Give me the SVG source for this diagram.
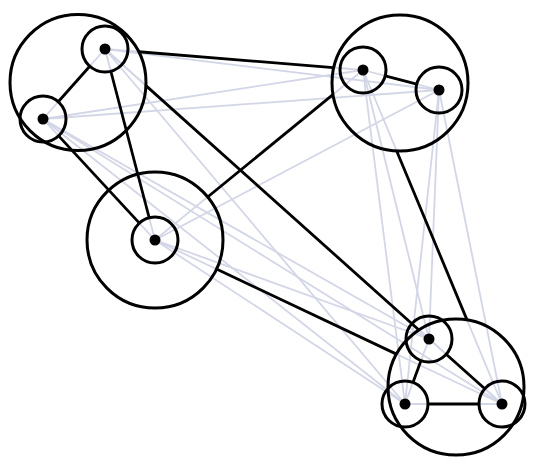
<svg xmlns="http://www.w3.org/2000/svg" width="543" height="469" viewBox="0 0 543 469">
<style>
.bg{fill:#ffffff}
.light line{stroke:#d3d6e6;stroke-width:1.8;fill:none}
.edges line{stroke:#000;stroke-width:2.8;fill:none;stroke-linecap:butt}
.group{fill:none;stroke:#000;stroke-width:3}
.ring{fill:none;stroke:#000;stroke-width:3}
.dot{fill:#000}
</style>
<rect class="bg" x="0" y="0" width="543" height="469"/>
<g id="connectors">
<g class="light">
<line x1="105" y1="49" x2="43" y2="119"/>
<line x1="105" y1="49" x2="363" y2="70"/>
<line x1="105" y1="49" x2="439" y2="90"/>
<line x1="105" y1="49" x2="155" y2="240"/>
<line x1="105" y1="49" x2="429" y2="339"/>
<line x1="105" y1="49" x2="405" y2="404"/>
<line x1="105" y1="49" x2="502" y2="404"/>
<line x1="43" y1="119" x2="363" y2="70"/>
<line x1="43" y1="119" x2="439" y2="90"/>
<line x1="43" y1="119" x2="155" y2="240"/>
<line x1="43" y1="119" x2="429" y2="339"/>
<line x1="43" y1="119" x2="405" y2="404"/>
<line x1="43" y1="119" x2="502" y2="404"/>
<line x1="363" y1="70" x2="439" y2="90"/>
<line x1="363" y1="70" x2="155" y2="240"/>
<line x1="363" y1="70" x2="429" y2="339"/>
<line x1="363" y1="70" x2="405" y2="404"/>
<line x1="363" y1="70" x2="502" y2="404"/>
<line x1="439" y1="90" x2="155" y2="240"/>
<line x1="439" y1="90" x2="429" y2="339"/>
<line x1="439" y1="90" x2="405" y2="404"/>
<line x1="439" y1="90" x2="502" y2="404"/>
<line x1="155" y1="240" x2="429" y2="339"/>
<line x1="155" y1="240" x2="405" y2="404"/>
<line x1="155" y1="240" x2="502" y2="404"/>
<line x1="429" y1="339" x2="405" y2="404"/>
<line x1="429" y1="339" x2="502" y2="404"/>
<line x1="405" y1="404" x2="502" y2="404"/>
</g>
<g class="edges">
<line x1="89.75" y1="66.22" x2="58.25" y2="101.78"/>
<line x1="110.82" y1="71.25" x2="149.18" y2="217.75"/>
<line x1="58.62" y1="135.88" x2="139.38" y2="223.12"/>
<line x1="385.24" y1="75.85" x2="416.76" y2="84.15"/>
<line x1="421.03" y1="360.58" x2="412.97" y2="382.42"/>
<line x1="446.18" y1="354.29" x2="484.82" y2="388.71"/>
<line x1="428" y1="404" x2="479" y2="404"/>
<line x1="138.65" y1="51.74" x2="333.2" y2="67.6"/>
<line x1="145.92" y1="85.63" x2="418.93" y2="329.99"/>
<line x1="332.6" y1="94.8" x2="207.65" y2="196.97"/>
<line x1="396.68" y1="150.92" x2="467.01" y2="319.91"/>
<line x1="216.48" y1="269.06" x2="396.48" y2="354.13"/>
</g>
</g>
<g id="group-A"><circle class="group" cx="78" cy="82.5" r="68"/></g>
<g id="group-B"><circle class="group" cx="400" cy="83" r="68"/></g>
<g id="group-C"><circle class="group" cx="155" cy="240" r="68"/></g>
<g id="group-D"><circle class="group" cx="456" cy="387" r="68"/></g>
<g id="node-a1"><circle class="ring" cx="105" cy="49" r="23"/><circle class="dot" cx="105" cy="49" r="5.5"/></g>
<g id="node-a2"><circle class="ring" cx="43" cy="119" r="23"/><circle class="dot" cx="43" cy="119" r="5.5"/></g>
<g id="node-b1"><circle class="ring" cx="363" cy="70" r="23"/><circle class="dot" cx="363" cy="70" r="5.5"/></g>
<g id="node-b2"><circle class="ring" cx="439" cy="90" r="23"/><circle class="dot" cx="439" cy="90" r="5.5"/></g>
<g id="node-c1"><circle class="ring" cx="155" cy="240" r="23"/><circle class="dot" cx="155" cy="240" r="5.5"/></g>
<g id="node-d1"><circle class="ring" cx="429" cy="339" r="23"/><circle class="dot" cx="429" cy="339" r="5.5"/></g>
<g id="node-d2"><circle class="ring" cx="405" cy="404" r="23"/><circle class="dot" cx="405" cy="404" r="5.5"/></g>
<g id="node-d3"><circle class="ring" cx="502" cy="404" r="23"/><circle class="dot" cx="502" cy="404" r="5.5"/></g>
</svg>
